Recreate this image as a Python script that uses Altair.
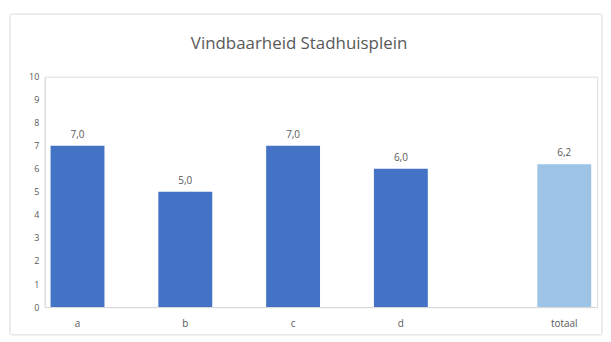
import altair as alt
import pandas as pd

title_text = "Vindbaarheid Stadhuisplein"
categories = ["a", "b", "c", "d", "totaal"]
values = [7.0, 5.0, 7.0, 6.0, 6.2]
labels = ["7,0", "5,0", "7,0", "6,0", "6,2"]
y_ticks = list(range(0, 11))

df = pd.DataFrame({"cat": categories, "val": values, "lab": labels})

W, H = 556, 232
DARK = "#4472C4"
LIGHT = "#9DC3E6"
GREY = "#595959"

xscale = alt.Scale(domain=categories, paddingInner=0.5, paddingOuter=0.312)
yscale = alt.Scale(domain=[0, 10], nice=False)
xaxis = alt.Axis(title=None, labels=False, ticks=False, grid=False,
                 domainColor="#d9d9d9", domainWidth=1)
yaxis = alt.Axis(title=None, values=y_ticks, grid=False, ticks=False,
                 domainColor="#d9d9d9", labelColor=GREY, labelFontSize=9,
                 labelPadding=6, labelFont="Open Sans", labelOverlap=False)

x_enc = alt.X("cat:N", scale=xscale, sort=categories, axis=xaxis)
y_enc = alt.Y("val:Q", scale=yscale, axis=yaxis)

base = alt.Chart(df)

def part(filt, offset, color):
    b = base.transform_filter(filt)
    bars = b.mark_bar(color=color).encode(x=x_enc, y=y_enc, xOffset=alt.value(offset))
    txt = b.mark_text(dy=-11, dx=offset, fontSize=10, color=GREY, font="Open Sans").encode(
        x=x_enc, y=y_enc, text="lab:N")
    cat = b.mark_text(dx=offset, fontSize=10, color=GREY, font="Open Sans").encode(
        x=x_enc, y=alt.value(H + 17), text="cat:N")
    return [bars, txt, cat]

single = alt.Chart(alt.Data(values=[{"t": title_text}]))
border = single.mark_rect(
    fill=None, stroke="#d9d9d9", strokeWidth=1, cornerRadius=2
).encode(x=alt.value(-35), x2=alt.value(561), y=alt.value(-63), y2=alt.value(260))
title = single.mark_text(fontSize=17, color=GREY, font="Open Sans", baseline="middle").encode(
    x=alt.value(256), y=alt.value(-33), text="t:N")

layers = [border, title] + part("datum.cat != 'totaal'", -28, DARK) + part("datum.cat == 'totaal'", 28, LIGHT)

chart = alt.layer(*layers).properties(
    width=W, height=H,
    padding={"left": 1, "top": 4, "right": 0, "bottom": 0},
).configure_view(strokeWidth=0, stroke="transparent").configure(background="white")

chart.save("out.html", embed_options={"renderer": "svg", "actions": False})
